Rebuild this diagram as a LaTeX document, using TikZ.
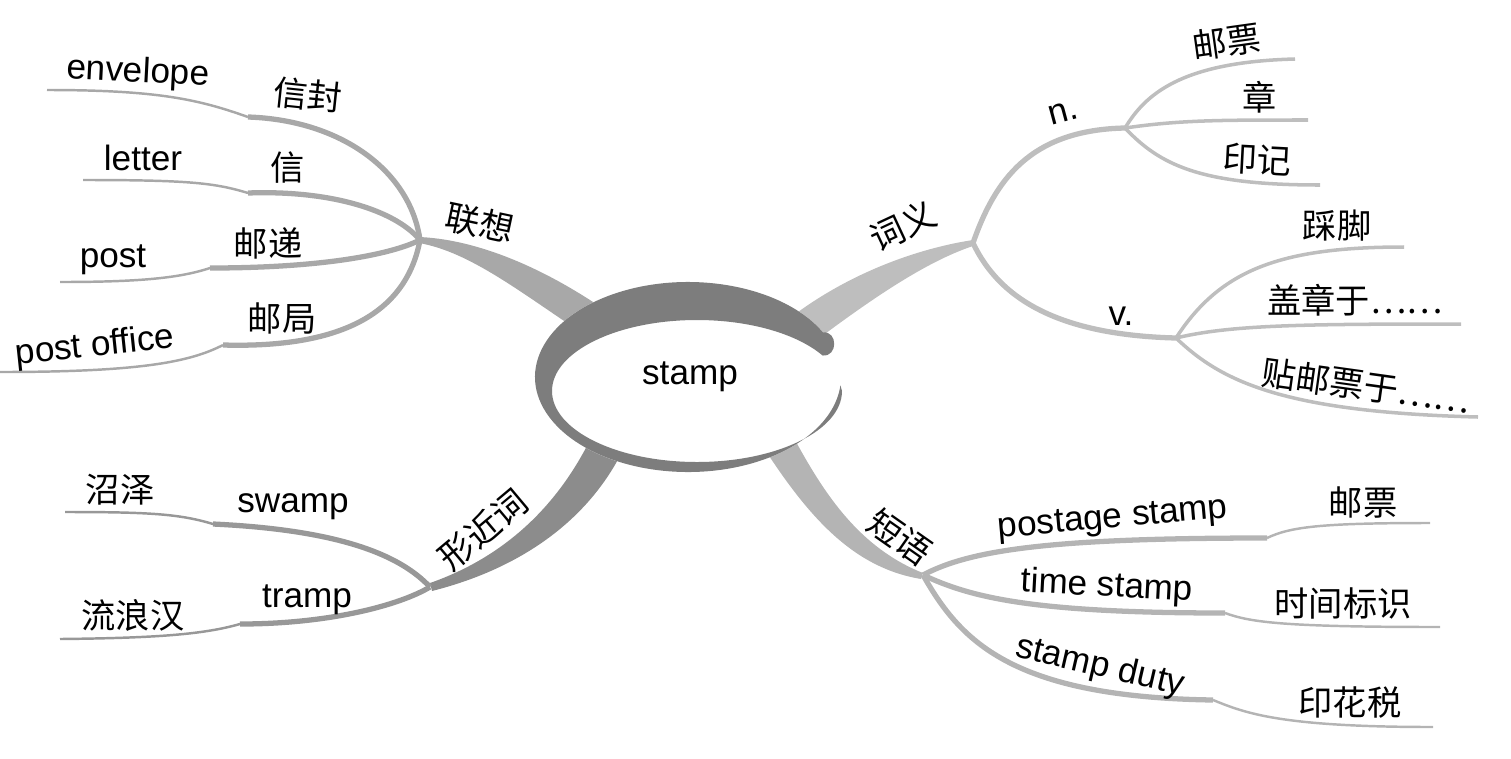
\documentclass[tikz,border=0pt]{standalone}
\usepackage{fontspec}
\setmainfont{Liberation Sans}
\newfontfamily\cjk{Noto Sans CJK SC}
\usepackage{xcolor}
\definecolor{ringGray}{RGB}{125,125,125}
\definecolor{assocGray}{RGB}{168,168,168}
\definecolor{senseGray}{RGB}{190,190,190}
\definecolor{formGray}{RGB}{140,140,140}
\definecolor{formTwig}{RGB}{152,152,152}
\definecolor{phraseGray}{RGB}{180,180,180}
\usetikzlibrary{positioning}

\begin{document}
\begin{tikzpicture}[x=0.02cm, y=-0.02cm,
    en/.style={font=\fontsize{20}{22}\selectfont, inner sep=0pt},
    zh/.style={font=\cjk\fontsize{19.5}{22}\selectfont, inner sep=0pt},
    twig/.style={line width=3pt},
    tip/.style={line width=1.4pt},
    leaf/.style={line width=2pt}
]
\useasboundingbox (0,0) rectangle (1511,758);

% hubs
\coordinate (assoc)   at (420,240);
\coordinate (sense)   at (973,243);
\coordinate (similar) at (430,587);
\coordinate (phrase)  at (923,575);
\coordinate (nhub)    at (1125,128);
\coordinate (vhub)    at (1176,338);

% main branches, tapered
\fill[assocGray] (419,237) .. controls (470,239) and (535,262) .. (605,310)
    -- (585,335) .. controls (520,292) and (470,252) .. (419,243) -- cycle;
\fill[senseGray] (973,240) .. controls (920,248) and (850,272) .. (790,318)
    -- (810,345) .. controls (870,300) and (925,262) .. (973,246) -- cycle;
\fill[formGray] (430,583) .. controls (490,562) and (550,520) .. (590,440)
    -- (622,452) .. controls (585,525) and (515,570) .. (432,591) -- cycle;
\fill[phraseGray] (795,440) .. controls (825,495) and (860,548) .. (923,573)
    -- (921,579) .. controls (855,568) and (810,520) .. (762,445) -- cycle;

% centre
\fill[white] (688,377) ellipse [x radius=153, y radius=95];
\fill[white] (697,391) ellipse [x radius=145, y radius=71];
\fill[ringGray] ([shift={(688,377)}]-28:153 and 95)
    arc[start angle=-28, end angle=-355, x radius=153, y radius=95]
    -- ([shift={(697,391)}]0:145 and 71)
    arc[start angle=0, end angle=330, x radius=145, y radius=71]
    .. controls (838,357) and (838,331) .. ([shift={(688,377)}]-28:153 and 95) -- cycle;
\node[en] (stamp) at (690,377) {stamp};

% 联想
\coordinate (env) at (248,117); \coordinate (env-e) at (47,90);
\coordinate (let) at (248,193); \coordinate (let-e) at (83,180);
\coordinate (pst) at (210,268); \coordinate (pst-e) at (60,282);
\coordinate (pof) at (223,345); \coordinate (pof-e) at (0,372);
\begin{scope}[draw=assocGray]
\draw[twig] (assoc) .. controls (410,170) and (340,120) .. (env);
\draw[tip] (env) .. controls (200,100) and (160,90) .. (env-e);
\draw[twig] (assoc) .. controls (395,210) and (330,190) .. (let);
\draw[tip] (let) .. controls (215,183) and (190,180) .. (let-e);
\draw[twig] (assoc) .. controls (390,255) and (320,268) .. (pst);
\draw[tip] (pst) .. controls (180,278) and (140,282) .. (pst-e);
\draw[twig] (assoc) .. controls (405,320) and (330,348) .. (pof);
\draw[tip] (pof) .. controls (190,362) and (140,372) .. (pof-e);
\end{scope}
\node[zh, rotate=-12] (lianxiang) at (480,223) {联想};
\node[zh, rotate=-6] (xinfeng) at (308,95) {信封};
\node[zh] (xin) at (288,168) {信};
\node[zh] (youdi) at (268,243) {邮递};
\node[zh] (youju) at (282,318) {邮局};
\node[en, rotate=-3] (envelope) at (138,73) {envelope};
\node[en] (letter) at (143,158) {letter};
\node[en] (post) at (113,260) {post};
\node[en, rotate=6] (postoffice) at (95,347) {post office};

% 词义
\coordinate (n1) at (1295,59);  \coordinate (n2) at (1308,120);
\coordinate (n3) at (1320,185);
\coordinate (v1) at (1404,247); \coordinate (v2) at (1461,324);
\coordinate (v3) at (1478,417);
\begin{scope}[draw=senseGray]
\draw[twig] (sense) .. controls (995,180) and (1030,130) .. (nhub);
\draw[twig] (sense) .. controls (1000,300) and (1060,335) .. (vhub);
\draw[leaf] (nhub) .. controls (1145,95) and (1180,62) .. (n1);
\draw[leaf] (nhub) .. controls (1180,120) and (1220,120) .. (n2);
\draw[leaf] (nhub) .. controls (1160,165) and (1200,185) .. (n3);
\draw[leaf] (vhub) .. controls (1220,270) and (1280,247) .. (v1);
\draw[leaf] (vhub) .. controls (1230,325) and (1300,324) .. (v2);
\draw[leaf] (vhub) .. controls (1220,380) and (1280,412) .. (v3);
\end{scope}
\node[zh, rotate=25] (ciyi) at (903,226) {词义};
\node[en, rotate=15] (noun) at (1063,113) {n.};
\node[en] (verb) at (1121,316) {v.};
\node[zh, rotate=8] (youpiao) at (1227,42) {邮票};
\node[zh] (zhang) at (1260,97) {章};
\node[zh, rotate=-3] (yinji) at (1257,160) {印记};
\node[zh] (caijiao) at (1337,226) {踩脚};
\node[zh] (gaizhang) at (1355,300) {盖章于……};
\node[zh, rotate=-8] (tie) at (1366,386) {贴邮票于……};

% 形近词
\coordinate (swp) at (213,524); \coordinate (swp-e) at (65,512);
\coordinate (trp) at (240,624); \coordinate (trp-e) at (60,639);
\begin{scope}[draw=formTwig]
\draw[twig] (similar) .. controls (400,555) and (340,530) .. (swp);
\draw[tip] (swp) .. controls (180,514) and (150,512) .. (swp-e);
\draw[twig] (similar) .. controls (400,605) and (330,624) .. (trp);
\draw[tip] (trp) .. controls (205,634) and (160,638) .. (trp-e);
\end{scope}
\node[zh, rotate=40] (xingjin) at (483,530) {形近词};
\node[en] (swamp) at (293,507) {swamp};
\node[en] (tramp) at (307,600) {tramp};
\node[zh] (zhaoze) at (120,490) {沼泽};
\node[zh] (liulang) at (133,615) {流浪汉};

% 短语
\coordinate (pg) at (1267,538); \coordinate (pg-e) at (1430,523);
\coordinate (ts) at (1225,613); \coordinate (ts-e) at (1440,627);
\coordinate (sd) at (1213,700); \coordinate (sd-e) at (1433,727);
\begin{scope}[draw=phraseGray]
\draw[twig] (phrase) .. controls (970,550) and (1050,538) .. (pg);
\draw[tip] (pg) .. controls (1290,527) and (1320,523) .. (pg-e);
\draw[twig] (phrase) .. controls (970,597) and (1030,613) .. (ts);
\draw[tip] (ts) .. controls (1250,622) and (1280,627) .. (ts-e);
\draw[twig] (phrase) .. controls (960,640) and (1010,697) .. (sd);
\draw[tip] (sd) .. controls (1245,713) and (1280,727) .. (sd-e);
\end{scope}
\node[zh, rotate=-35] (duanyu) at (900,537) {短语};
\node[en, rotate=5] (postage) at (1113,520) {postage stamp};
\node[en, rotate=-3] (timestamp) at (1107,587) {time stamp};
\node[en, rotate=-13] (duty) at (1100,667) {stamp duty};
\node[zh] (youpiao2) at (1363,503) {邮票};
\node[zh] (shijian) at (1343,603) {时间标识};
\node[zh] (yinhua) at (1350,703) {印花税};

\end{tikzpicture}
\end{document}
